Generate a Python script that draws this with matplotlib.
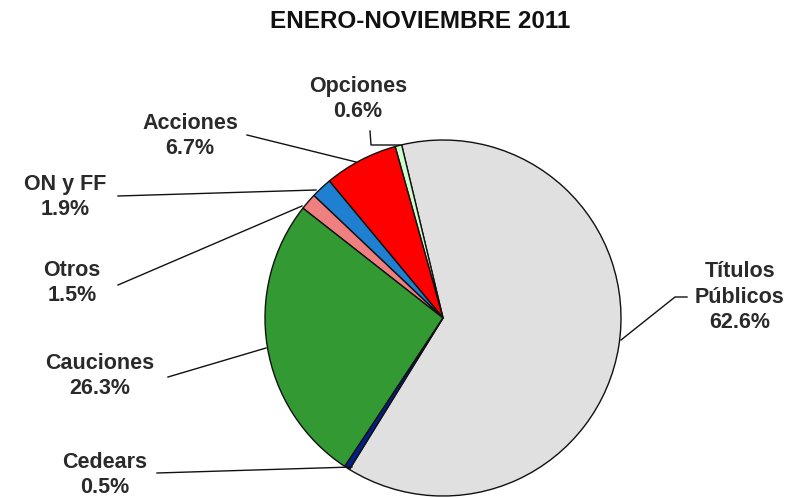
import matplotlib.pyplot as plt

# data
labels = ['Títulos\nPúblicos', 'Opciones', 'Acciones', 'ON y FF', 'Otros', 'Cauciones', 'Cedears']
shares = [62.6, 0.6, 6.7, 1.9, 1.5, 26.3, 0.5]
colors = ['#e0e0e0', '#ccffcc', '#ff0000', '#1f7fd0', '#f08080', '#339933', '#00208c']

# label placement (pixel coords, y down) and leader lines
label_xy = [(740, 297), (358, 99), (190, 136), (65, 197), (72, 283), (100, 376), (105, 475)]
leaders = [
    [(687, 297), (675, 297), (621, 340)],
    [(370, 131), (371, 145), (400, 145)],
    [(247, 135), (356, 162)],
    [(118, 196), (316, 190)],
    [(118, 285), (302, 206)],
    [(168, 377), (266, 348)],
    [(157, 473), (352, 467)],
]

W, H = 802, 498
fig = plt.figure(figsize=(W / 100, H / 100), dpi=100)
ax = fig.add_axes([0, 0, 1, 1])
ax.set_xlim(0, W)
ax.set_ylim(0, H)
ax.set_aspect('equal')
ax.axis('off')

ax.pie(shares, colors=colors, center=(443, H - 318), radius=178,
       startangle=238.3, counterclock=True,
       wedgeprops=dict(edgecolor='#111111', linewidth=1.0))
ax.set_xlim(0, W)
ax.set_ylim(0, H)

for lab, val, (x, y), pts in zip(labels, shares, label_xy, leaders):
    ax.text(x, H - y, lab + '\n' + f'{val:.1f}%', ha='center', va='center',
            fontsize=15.5, fontweight='bold', color='#2a2a2a',
            family='Liberation Sans', linespacing=1.3)
    ax.plot([p[0] for p in pts], [H - p[1] for p in pts], color='#111111', lw=1.0)

ax.text(420, H - 21, 'ENERO-NOVIEMBRE 2011', ha='center', va='center',
        fontsize=17.5, fontweight='bold', color='#111111', family='Liberation Sans')

fig.savefig('out.png', dpi=100)
